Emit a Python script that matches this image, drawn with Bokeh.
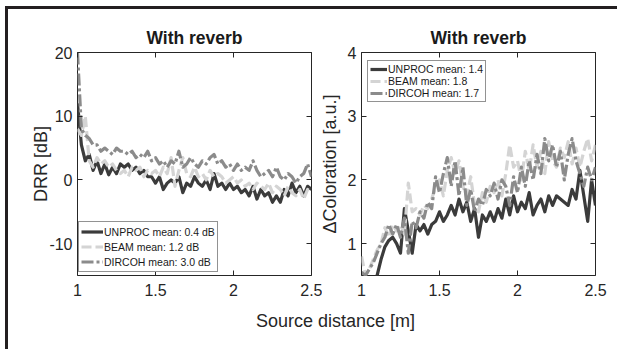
from bokeh.plotting import figure
from bokeh.layouts import column, row
from bokeh.models import (LinearAxis, FixedTicker, Legend, LegendItem, Range1d, Label, Div)
from bokeh.embed import file_html
from bokeh.resources import INLINE

# ---------------- data ----------------
distance = [1.000, 1.025, 1.050, 1.075, 1.100, 1.125, 1.150, 1.175, 1.200, 1.225,
            1.250, 1.275, 1.300, 1.325, 1.350, 1.375, 1.400, 1.425, 1.450, 1.475,
            1.500, 1.525, 1.550, 1.575, 1.600, 1.625, 1.650, 1.675, 1.700, 1.725,
            1.750, 1.775, 1.800, 1.825, 1.850, 1.875, 1.900, 1.925, 1.950, 1.975,
            2.000, 2.025, 2.050, 2.075, 2.100, 2.125, 2.150, 2.175, 2.200, 2.225,
            2.250, 2.275, 2.300, 2.325, 2.350, 2.375, 2.400, 2.425, 2.450, 2.475,
            2.500]

drr_unproc = [12.0, 5.5, 3.0, 4.0, 1.5, 3.0, 1.0, 2.5, 0.8, 2.0,
              1.0, 2.5, 2.0, 2.5, 1.5, 2.0, 1.0, 1.5, 0.5, 0.5,
              -0.5, 0.5, -1.5, -0.5, 0.0, -0.5, 0.5, -2.0, -0.5, -1.0,
              0.5, -0.5, -1.0, 0.0, -1.5, 1.0, -1.0, -0.5, -1.5, -0.5,
              -1.5, -1.0, -2.0, -1.5, -2.5, -1.0, -3.0, -1.5, -2.5, -2.0,
              -3.5, -2.5, -3.5, -1.5, -2.5, -0.5, -2.0, -1.0, -2.5, -1.0,
              -1.5]
drr_beam = [8.0, 7.0, 10.0, 3.0, 2.0, 3.5, 2.5, 3.0, 2.0, 2.5,
            1.5, 1.0, 1.5, 0.5, 2.0, 1.5, 2.0, 0.5, 1.5, 1.0,
            1.5, 0.5, 2.0, 1.0, 3.5, -1.0, 1.5, 3.5, 1.0, 0.5,
            2.0, 0.5, 1.0, 0.0, 1.5, 0.5, 1.0, 0.5, -0.5, 0.0,
            0.5, -0.5, 0.0, -1.0, -0.5, -1.5, -0.5, -1.0, -1.5, -0.5,
            -2.0, -1.0, -1.5, -2.5, -1.0, -2.0, -2.5, -1.5, -3.0, -1.5,
            -2.0]
drr_dircoh = [20.0, 8.0, 7.0, 6.5, 5.5, 5.5, 4.5, 5.0, 4.5, 4.0,
              5.0, 4.5, 4.5, 4.0, 4.5, 3.5, 4.0, 3.5, 4.5, 3.0,
              3.5, 2.5, 3.0, 2.0, 3.0, 2.5, 4.5, 2.0, 2.5, 3.5,
              2.5, 2.0, 3.0, 2.5, 3.5, 4.0, 2.5, 3.0, 2.0, 2.5,
              1.5, 2.5, 1.5, 2.0, 1.5, 3.0, 1.5, 0.5, 1.0, 1.5,
              0.5, 2.0, 0.5, 0.0, 1.0, 0.5, -0.5, 0.5, 1.0, 2.5,
              0.5]

col_unproc = [0.20, 0.25, 0.30, 0.40, 0.50, 0.75, 0.95, 1.05, 1.10, 1.00,
              0.85, 1.55, 1.20, 0.85, 1.30, 1.20, 1.30, 1.15, 1.30, 1.35,
              1.50, 1.35, 1.45, 1.60, 1.45, 1.70, 1.50, 1.65, 1.35, 1.55,
              1.10, 1.45, 1.35, 1.50, 1.35, 1.55, 1.40, 1.70, 1.45, 1.75,
              1.50, 1.65, 1.55, 1.80, 1.45, 1.60, 1.70, 1.50, 1.75, 1.60,
              1.75, 1.70, 1.65, 1.60, 1.85, 1.70, 2.15, 1.75, 1.35, 2.00,
              1.60]
col_beam = [0.80, 0.50, 0.60, 0.75, 0.90, 1.00, 1.25, 1.10, 1.30, 1.20,
            1.30, 1.15, 1.95, 1.50, 1.55, 1.45, 1.60, 1.55, 1.70, 1.90,
            2.00, 1.75, 2.15, 2.35, 2.10, 2.30, 1.90, 1.75, 2.05, 1.60,
            1.50, 1.80, 1.65, 1.90, 1.80, 2.00, 1.75, 2.10, 2.55, 2.20,
            2.30, 2.00, 2.45, 2.15, 2.55, 2.20, 2.45, 2.10, 2.60, 2.30,
            2.20, 2.50, 2.35, 2.60, 2.25, 2.50, 2.20, 2.45, 2.65, 2.30,
            2.55]
col_dircoh = [0.55, 0.50, 0.60, 0.70, 0.85, 1.00, 1.10, 1.30, 1.15, 1.30,
              1.10, 1.40, 0.85, 1.35, 1.25, 1.50, 1.40, 1.65, 1.55, 2.05,
              1.80, 2.10, 2.35, 1.90, 2.30, 1.75, 2.20, 1.60, 1.85, 1.50,
              1.70, 1.60, 1.85, 1.75, 1.95, 1.70, 2.00, 1.90, 1.60, 2.05,
              1.80, 2.20, 1.90, 2.30, 2.00, 2.40, 2.10, 2.65, 2.30, 2.55,
              2.20, 2.45, 2.00, 2.40, 2.65, 2.30, 2.10, 1.90, 2.20, 2.00,
              2.20]

series_names = ["UNPROC", "BEAM", "DIRCOH"]
drr_legend = ["UNPROC mean: 0.4 dB", "BEAM mean: 1.2 dB", "DIRCOH mean: 3.0 dB"]
col_legend = ["UNPROC mean: 1.4", "BEAM mean: 1.8", "DIRCOH mean: 1.7"]

x_ticks = [1, 1.5, 2, 2.5]
x_tick_labels = ["1", "1.5", "2", "2.5"]
drr_ticks = [-10, 0, 10, 20]
drr_tick_labels = ["-10", "0", "10", "20"]
col_ticks = [1, 2, 3, 4]
col_tick_labels = ["1", "2", "3", "4"]

title_text = "With reverb"
x_label = "Source distance [m]"
drr_label = "DRR [dB]"
col_label = "\u0394Coloration [a.u.]"

# ---------------- style ----------------
FONT = "Liberation Sans"
TXT = "#262626"
FRAME = "#231f20"
colors = ["#3b3b3b", "#d4d4d4", "#8b8b8b"]
dashes = ["solid", "10 4", "12 3 3 3"]
LW = 3.2


def make_panel(width, mbl, mbr, yrange, yticks, ylabels, ylabel, ys, labels,
               legend_loc, lab_standoff, leg_glyph_w, leg_row_h, leg_pad):
    p = figure(width=width, height=296, output_backend="svg", toolbar_location=None,
               x_range=Range1d(1, 2.5), y_range=Range1d(*yrange),
               min_border_left=mbl, min_border_right=mbr, min_border_top=43,
               min_border_bottom=30)
    p.background_fill_color = "white"
    p.border_fill_color = "white"
    p.outline_line_color = TXT
    p.outline_line_width = 1
    p.grid.grid_line_color = None

    p.title.text = title_text
    p.title.align = "center"
    p.title.text_font = FONT
    p.title.text_font_size = "17.5px"
    p.title.text_font_style = "bold"
    p.title.text_color = "#1a1a1a"
    p.title.standoff = 9

    def style_axis(ax, ticks, tick_labels, show_labels, standoff=4):
        ax.ticker = FixedTicker(ticks=ticks, minor_ticks=[])
        ax.major_tick_in = 5
        ax.major_tick_out = 0
        ax.major_tick_line_color = TXT
        ax.minor_tick_line_color = None
        ax.axis_line_color = None
        ax.major_label_text_font = FONT
        ax.major_label_text_color = TXT
        ax.major_label_text_font_size = "16px"
        if show_labels:
            ax.major_label_standoff = standoff
            ax.major_label_overrides = dict(zip(ticks, tick_labels))
        else:
            ax.major_label_standoff = 0
            ax.major_label_overrides = {t: "" for t in ticks}

    style_axis(p.xaxis[0], x_ticks, x_tick_labels, True, 8)
    style_axis(p.yaxis[0], yticks, ylabels, True, 5)
    p.yaxis[0].axis_label = ylabel
    p.yaxis[0].axis_label_text_font = FONT
    p.yaxis[0].axis_label_text_font_size = "18px"
    p.yaxis[0].axis_label_text_font_style = "normal"
    p.yaxis[0].axis_label_text_color = TXT
    p.yaxis[0].axis_label_standoff = lab_standoff

    top = LinearAxis()
    style_axis(top, x_ticks, x_tick_labels, False)
    p.add_layout(top, "above")
    right = LinearAxis()
    style_axis(right, yticks, ylabels, False)
    p.add_layout(right, "right")

    rs = []
    for yv, c, d in zip(ys, colors, dashes):
        r = p.line(distance, yv, line_color=c, line_width=LW, line_dash=d,
                   line_join="round")
        rs.append(r)

    leg = Legend(items=[LegendItem(label=l, renderers=[r]) for l, r in zip(labels, rs)],
                 location=legend_loc)
    leg.border_line_color = TXT
    leg.border_line_width = 1
    leg.background_fill_color = "white"
    leg.background_fill_alpha = 1
    leg.label_text_font = FONT
    leg.label_text_font_size = "10.5px"
    leg.label_text_color = "#1a1a1a"
    leg.glyph_width = leg_glyph_w
    leg.glyph_height = leg_row_h
    leg.label_height = leg_row_h
    leg.label_standoff = 1
    leg.spacing = 0
    leg.padding = leg_pad
    leg.margin = 0
    p.add_layout(leg)
    return p


p1 = make_panel(314, 69, 11, (-15, 20), drr_ticks, drr_tick_labels, drr_label,
                [drr_unproc, drr_beam, drr_dircoh], drr_legend, (1, 3), -5, 22, 15, 2)
p2 = make_panel(304, 48, 22, (0.5, 4), col_ticks, col_tick_labels, col_label,
                [col_unproc, col_beam, col_dircoh], col_legend, (6, 173), 5, 17, 12, 2)
p2.border_fill_alpha = 0
p2.margin = (0, 0, 0, -9)

p3 = figure(width=609, height=40, output_backend="svg", toolbar_location=None,
            x_range=Range1d(0, 1), y_range=Range1d(0, 1),
            min_border_left=0, min_border_right=0, min_border_top=0, min_border_bottom=0)
p3.axis.visible = False
p3.grid.grid_line_color = None
p3.outline_line_color = None
p3.background_fill_color = "white"
p3.border_fill_color = "white"
p3.add_layout(Label(x=327, y=25, x_units="screen", y_units="screen", text=x_label,
                    text_align="center", text_baseline="middle", text_font=FONT,
                    text_font_size="18px", text_color=TXT))

# outer figure frame (left and top edges only, as in the cropped original)
top_bar = Div(width=609, height=3, margin=0, styles={"background-color": FRAME})
left_bar = Div(width=3, height=343, margin=0, styles={"background-color": FRAME})

inner = column(top_bar, row(p1, p2), p3)
layout = row(left_bar, inner, margin=(6, 0, 0, 5))

open("out.html", "w").write(file_html(layout, INLINE))
